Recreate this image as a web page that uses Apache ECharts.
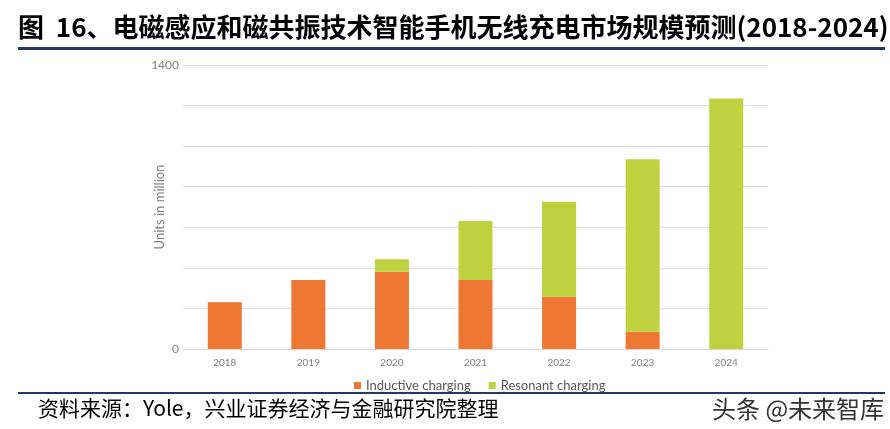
<!DOCTYPE html>
<html><head><meta charset="utf-8">
<script src="https://cdn.jsdelivr.net/npm/echarts@6/dist/echarts.min.js"></script>
<style>html,body{margin:0;padding:0;background:#fff}#c{width:890px;height:429px}</style>
</head><body><div id="c"></div>
<script>
const years = ['2018','2019','2020','2021','2022','2023','2024'];
const inductive = [230, 340, 381, 340, 258, 85, 0];
const resonant = [0, 0, 61, 291, 468, 850, 1235];
const yTickLabels = {0:'0', 1400:'1400'};
const titleText = '图  16、电磁感应和磁共振技术智能手机无线充电市场规模预测(2018-2024)';
const sourceText = '资料来源：Yole，兴业证券经济与金融研究院整理';
const watermark = '头条 @未来智库';

const chart = echarts.init(document.getElementById('c'), null, {renderer:'canvas'});
const gray = '#7f7f7f';
chart.setOption({
  animation:false,
  grid:{left:183, right:122, top:65, bottom:80},
  legend:{
    top:374, left:349, itemWidth:7, itemHeight:7, itemGap:18, icon:'rect',
    textStyle:{color:'#595959', fontSize:13, fontFamily:'Lato'},
    data:['Inductive charging','Resonant charging']
  },
  xAxis:{type:'category', data:years,
    axisLine:{lineStyle:{color:'#d9d9d9'}}, axisTick:{show:false},
    axisLabel:{color:gray, fontSize:10, margin:9, fontFamily:'Lato'}},
  yAxis:{type:'value', min:0, max:1400, interval:200,
    name:'Units in million', nameLocation:'middle', nameGap:17, nameMoveOverlap:false,
    nameTextStyle:{color:gray, fontSize:13, fontFamily:'Lato'},
    axisLine:{show:false}, axisTick:{show:false},
    splitLine:{lineStyle:{color:'#dcdcdc'}},
    axisLabel:{color:gray, fontSize:12, margin:4, fontFamily:'Lato',
      formatter:v=> (yTickLabels[v]!==undefined ? yTickLabels[v] : '')}},
  series:[
    {name:'Inductive charging', type:'bar', stack:'a', data:inductive, barWidth:34, itemStyle:{color:'#EE7733'}},
    {name:'Resonant charging', type:'bar', stack:'a', data:resonant, barWidth:34, itemStyle:{color:'#BDD23E'}}
  ],
  graphic:[
    {type:'text', left:18, top:14, style:{text:titleText, fill:'#000', font:'bold 26px "Noto Sans CJK SC", "Liberation Serif"'}},
    {type:'rect', shape:{x:18, y:47, width:867, height:3}, style:{fill:'#1F3864'}},
    {type:'rect', shape:{x:18, y:392, width:867, height:2}, style:{fill:'#1F3864'}},
    {type:'text', left:38, top:398, style:{text:sourceText, fill:'#000', font:'21px "Noto Sans CJK SC", "Liberation Serif"'}},
    {type:'text', left:712, top:397, style:{text:watermark, fill:'#333', font:'24px "Noto Sans CJK SC"'}}
  ]
});
</script></body></html>
